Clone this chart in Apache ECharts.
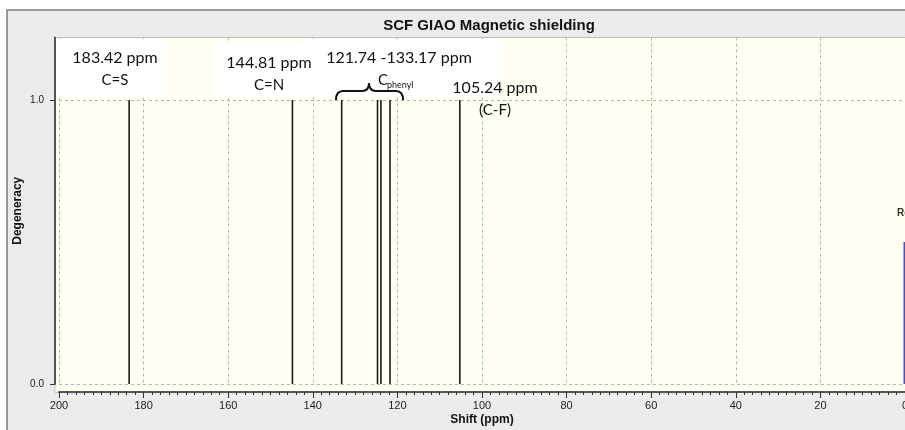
<!DOCTYPE html>
<html>
<head>
<meta charset="utf-8">
<title>SCF GIAO Magnetic shielding</title>
<script src="https://cdn.jsdelivr.net/npm/echarts@6/dist/echarts.min.js"></script>
<style>
  html, body { margin: 0; padding: 0; background: #fff; }
  #chart { width: 905px; height: 430px; }
</style>
</head>
<body>
<div id="chart"></div>
<script>
// peak positions (ppm) and degeneracy
var peakShift = [183.42, 144.81, 133.17, 124.7, 123.9, 121.74, 105.24];
var peakDegeneracy = [1, 1, 1, 1, 1, 1, 1];
// reference peak (TMS) at the right edge
var refShift = [0];
var refDegeneracy = [0.5];
var xTickLabels = ['0', '20', '40', '60', '80', '100', '120', '140', '160', '180', '200'];
var yTickLabels = ['0.0', '1.0'];

var annoFont = 'Lato, "Open Sans", sans-serif';

function sticks(xs, ys) {
  var out = [];
  for (var i = 0; i < xs.length; i++) {
    out.push([xs[i], 0], [xs[i], ys[i]], '-');
  }
  return out;
}

function braceCurve(x1, y1, cx, cy, x2, y2) {
  return { type: 'bezierCurve', z: 6,
    shape: { x1: x1, y1: y1, cpx1: cx, cpy1: cy, x2: x2, y2: y2 },
    style: { fill: null, stroke: '#111', lineWidth: 2 } };
}
function braceLine(x1, y1, x2, y2) {
  return { type: 'line', z: 6, shape: { x1: x1, y1: y1, x2: x2, y2: y2 },
    style: { stroke: '#111', lineWidth: 2 } };
}

var chart = echarts.init(document.getElementById('chart'));
chart.setOption({
  backgroundColor: '#ffffff',
  animation: false,
  title: {
    text: 'SCF GIAO Magnetic shielding',
    left: 484,
    top: 13,
    textAlign: 'center',
    textStyle: { fontFamily: 'Liberation Sans, Arial', fontSize: 15, fontWeight: 'bold', color: '#111' }
  },
  grid: { left: 59, right: 0, top: 37.5, bottom: 46, containLabel: false, outerBoundsMode: 'none' },
  xAxis: {
    type: 'value',
    min: 0,
    max: 200,
    interval: 20,
    inverse: true,
    offset: 8,
    name: 'Shift (ppm)',
    nameLocation: 'middle',
    nameGap: 22,
    nameMoveOverlap: false,
    nameTextStyle: { fontFamily: 'Liberation Sans, Arial', fontSize: 12, fontWeight: 'bold', color: '#111' },
    axisLine: { onZero: false, lineStyle: { color: '#555', width: 2 } },
    axisTick: { length: 6, lineStyle: { color: '#333' } },
    minorTick: { show: true, splitNumber: 10, length: 3, lineStyle: { color: '#333' } },
    axisLabel: {
      margin: 8, fontSize: 11, color: '#222', fontFamily: 'Liberation Sans, Arial',
      formatter: function (v) { return xTickLabels[Math.round(v / 20)]; }
    },
    splitLine: { show: true, lineStyle: { color: '#b5b5b5', type: [3, 3] } }
  },
  yAxis: {
    type: 'value',
    min: 0,
    max: 1.22,
    interval: 1,
    offset: 4,
    name: 'Degeneracy',
    nameLocation: 'middle',
    nameGap: 31,
    nameMoveOverlap: false,
    nameTextStyle: { fontFamily: 'Liberation Sans, Arial', fontSize: 12, fontWeight: 'bold', color: '#111' },
    axisLine: { show: true, onZero: false, lineStyle: { color: '#555', width: 2 } },
    axisTick: { show: true, length: 5, lineStyle: { color: '#333' } },
    axisLabel: {
      margin: 11, fontSize: 10, color: '#222', fontFamily: 'Liberation Sans, Arial',
      showMaxLabel: false,
      formatter: function (v) { return yTickLabels[Math.round(v)] || ''; }
    },
    splitLine: { show: true, lineStyle: { color: '#b5b5b5', type: [3, 3] } }
  },
  series: [
    {
      name: 'Shielding',
      type: 'line',
      data: sticks(peakShift, peakDegeneracy),
      symbol: 'none',
      connectNulls: false,
      lineStyle: { color: '#1a1a1a', width: 1.6 },
      z: 5
    },
    {
      name: 'Reference',
      type: 'line',
      data: sticks(refShift, refDegeneracy),
      symbol: 'none',
      clip: false,
      lineStyle: { color: '#4646ff', width: 3 },
      z: 5
    }
  ],
  graphic: [
    { type: 'rect', z: -20, shape: { x: 7, y: 10, width: 920, height: 440 },
      style: { fill: '#ebebeb', stroke: '#7c7c84', lineWidth: 1.5 } },
    { type: 'rect', z: -10, shape: { x: 55, y: 37.5, width: 870, height: 355 },
      style: { fill: '#fffff2', stroke: '#c4c4c4', lineWidth: 1 } },
    // pasted white label boxes
    { type: 'rect', z: 1, shape: { x: 57, y: 39, width: 108, height: 58 }, style: { fill: '#ffffff' } },
    { type: 'rect', z: 1, shape: { x: 212, y: 43, width: 288, height: 54 }, style: { fill: '#ffffff' } },
    { type: 'rect', z: 1, shape: { x: 298, y: 39, width: 202, height: 5 }, style: { fill: '#ffffff' } },
    // annotations
    { type: 'text', z: 6, x: 115, y: 58, style: { text: '183.42 ppm', font: '16px ' + annoFont, fill: '#111', align: 'center', verticalAlign: 'middle' } },
    { type: 'text', z: 6, x: 115, y: 80, style: { text: 'C=S', font: '15px ' + annoFont, fill: '#111', align: 'center', verticalAlign: 'middle' } },
    { type: 'text', z: 6, x: 269, y: 63, style: { text: '144.81 ppm', font: '16px ' + annoFont, fill: '#111', align: 'center', verticalAlign: 'middle' } },
    { type: 'text', z: 6, x: 269, y: 85, style: { text: 'C=N', font: '15px ' + annoFont, fill: '#111', align: 'center', verticalAlign: 'middle' } },
    { type: 'text', z: 6, x: 399, y: 58, style: { text: '121.74 -133.17 ppm', font: '16px ' + annoFont, fill: '#111', align: 'center', verticalAlign: 'middle' } },
    { type: 'text', z: 6, x: 378, y: 80, style: { text: 'C', font: '15px ' + annoFont, fill: '#111', align: 'left', verticalAlign: 'middle' } },
    { type: 'text', z: 6, x: 387, y: 85, style: { text: 'phenyl', font: '9px ' + annoFont, fill: '#111', align: 'left', verticalAlign: 'middle' } },
    { type: 'text', z: 6, x: 495, y: 88, style: { text: '105.24 ppm', font: '16px ' + annoFont, fill: '#111', align: 'center', verticalAlign: 'middle' } },
    { type: 'text', z: 6, x: 495, y: 110, style: { text: '(C-F)', font: '15px ' + annoFont, fill: '#111', align: 'center', verticalAlign: 'middle' } },
    { type: 'text', z: 6, x: 897, y: 213, style: { text: 'Reference', font: 'bold 10px Liberation Sans, Arial', fill: '#3b3520', align: 'left', verticalAlign: 'middle' } },
    // brace over the phenyl peaks
    braceCurve(336, 100, 336, 91, 343, 91),
    braceLine(343, 91, 362, 91),
    braceCurve(362, 91, 369, 91, 369, 83),
    braceCurve(369, 83, 369, 91, 376, 91),
    braceLine(376, 91, 396, 91),
    braceCurve(396, 91, 403, 91, 403, 100)
  ]
});
</script>
</body>
</html>
